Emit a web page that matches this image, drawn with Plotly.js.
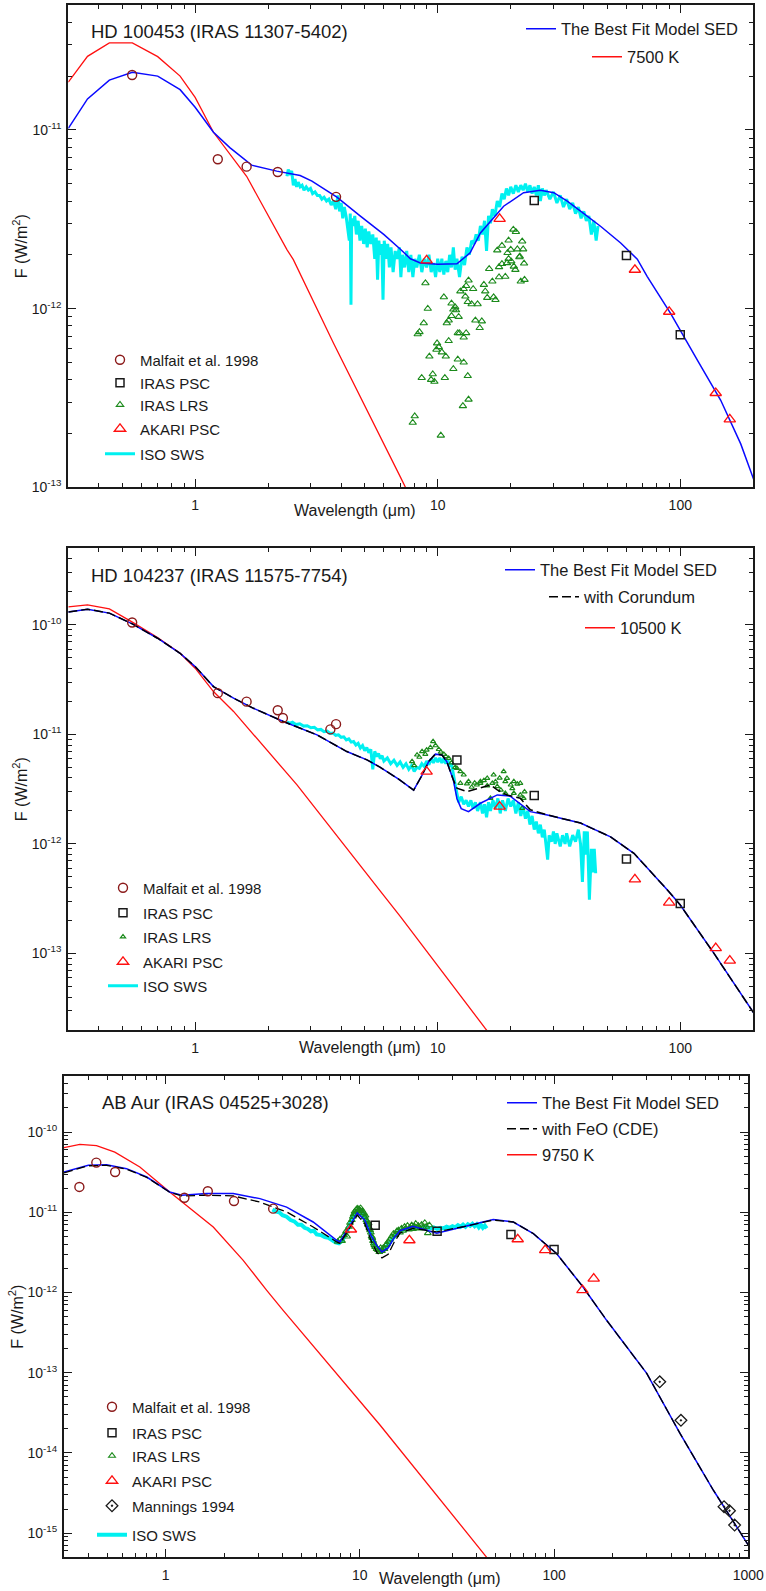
<!DOCTYPE html>
<html><head><meta charset="utf-8">
<script src="https://cdn.plot.ly/plotly-3.0.1.min.js"></script>
<style>html,body{margin:0;padding:0;background:#fff}</style>
</head><body><div id="chart" style="width:766px;height:1591px"></div>
<script>
// ---------------- Panel 1 : HD 100453 ----------------
const p1MalfaitWl = [0.55, 1.24, 1.63, 2.19, 3.81];
const p1MalfaitF  = [2.03e-11, 6.85e-12, 6.23e-12, 5.81e-12, 4.22e-12];
const p1IrasWl = [25, 60, 100];
const p1IrasF  = [4.03e-12, 1.98e-12, 7.14e-13];
const p1AkariWl = [9, 18, 65, 90, 140, 160];
const p1AkariF  = [1.86e-12, 3.18e-12, 1.65e-12, 9.6e-13, 3.37e-13, 2.4e-13];
const p1LrsWl = [8.90,10.6,9.10,8.76,8.27,8.41,9.24,8.59,9.54,9.39,9.69,10.3,8.04,7.89,9.94,10.1,9.88,10.4,10.8,10.7,
 11.6,12.1,12.8,13.3,12.7,13.4,11.1,12.1,12.3,12.8,13.1,10.9,11.1,11.4,11.6,11.9,12.2,11.4,11.8,12.4,
 12.8,13.1,13.4,13.0,13.3,13.8,14.0,14.6,14.3,14.9,15.2,16.0,15.7,15.5,17.0,17.3,16.3,16.8,17.9,17.9,
 19.0,18.4,19.3,19.6,20.1,20.6,20.9,21.7,22.0,22.8,22.7,20.5,21.0,19.6,22.3,17.6,18.4,20.0,21.3,22.5,19.4,21.8];
const p1LrsF = [1.39e-12,1.16e-12,1.0e-12,8.3e-13,7.2e-13,7.4e-13,5.4e-13,4.1e-13,4.3e-13,4.0e-13,3.9e-13,1.95e-13,2.5e-13,2.3e-13,6.4e-13,6.1e-13,5.9e-13,5.7e-13,5.4e-13,4.1e-13,
 4.6e-13,5.2e-13,5.0e-13,4.2e-13,2.85e-13,3.1e-13,6.6e-13,7.3e-13,7.3e-13,6.9e-13,7.3e-13,8.3e-13,8.6e-13,9.1e-13,9.9e-13,9.8e-13,9.0e-13,1.07e-12,1.02e-12,1.25e-12,
 1.29e-12,1.34e-12,1.44e-12,1.17e-12,1.09e-12,1.06e-12,1.29e-12,1.06e-12,8.6e-13,7.8e-13,8.5e-13,1.15e-12,1.25e-12,1.36e-12,1.16e-12,1.12e-12,1.67e-12,1.42e-12,1.71e-12,1.50e-12,
 1.51e-12,1.78e-12,1.80e-12,1.90e-12,1.84e-12,1.72e-12,1.65e-12,1.94e-12,1.42e-12,1.45e-12,1.79e-12,2.77e-12,2.69e-12,2.41e-12,2.38e-12,2.12e-12,2.25e-12,2.14e-12,2.15e-12,2.15e-12,2.05e-12,1.96e-12];
const p1SwsWl = [2.39,2.42,2.46,2.50,2.54,2.58,2.62,2.66,2.71,2.76,
 2.81,2.87,2.93,2.99,3.05,3.12,3.19,3.26,3.33,3.40,
 3.48,3.56,3.64,3.72,3.80,3.88,3.94,4.00,4.06,4.12,
 4.19,4.25,4.32,4.36,4.39,4.42,4.48,4.55,4.62,4.70,
 4.78,4.86,4.95,5.03,5.12,5.20,5.30,5.40,5.50,5.58,
 5.65,5.72,5.80,5.88,5.95,6.02,6.12,6.22,6.32,6.42,
 6.55,6.68,6.80,6.95,7.05,7.15,7.30,7.45,7.60,7.75,
 7.90,8.05,8.20,8.40,8.60,8.80,9.00,9.20,9.40,9.60,
 9.80,10.0,10.2,10.4,10.6,10.8,11.0,11.2,11.4,11.6,
 11.8,12.0,12.3,12.6,12.9,13.2,13.5,13.8,14.1,14.4,
 14.7,15.0,15.3,15.6,15.9,16.2,16.5,16.8,17.2,17.6,
 18.0,18.4,18.8,19.2,19.6,20.0,20.5,21.0,21.5,22.0,
 22.5,23.0,23.5,24.0,24.5,25.0,25.5,26.0,26.5,27.0,
 27.5,28.0,29.0,30.0,31.0,32.0,33.0,34.0,35.0,36.0,
 37.0,38.0,39.0,40.0,41.0,42.0,43.0,44.0,45.0,45.8];
const p1SwsF = [5.5e-12,6.0e-12,5.6e-12,5.9e-12,4.9e-12,5.3e-12,4.8e-12,5.1e-12,4.8e-12,4.9e-12,
 4.6e-12,4.8e-12,4.6e-12,4.7e-12,4.4e-12,4.5e-12,4.3e-12,4.3e-12,4.1e-12,4.2e-12,
 4.0e-12,4.1e-12,3.8e-12,4.0e-12,3.6e-12,4.3e-12,3.5e-12,3.9e-12,3.2e-12,3.7e-12,
 3.3e-12,2.9e-12,2.4e-12,3.4e-12,1.05e-12,3.2e-12,2.9e-12,3.3e-12,2.6e-12,3.1e-12,
 2.4e-12,2.9e-12,2.3e-12,2.8e-12,2.2e-12,2.7e-12,2.3e-12,2.6e-12,1.9e-12,2.5e-12,
 1.45e-12,2.4e-12,2.0e-12,2.3e-12,1.12e-12,2.4e-12,1.9e-12,2.3e-12,1.7e-12,2.2e-12,
 1.6e-12,2.1e-12,1.9e-12,2.2e-12,1.5e-12,2.0e-12,1.7e-12,2.1e-12,1.6e-12,2.0e-12,
 1.5e-12,1.9e-12,1.7e-12,2.0e-12,1.6e-12,1.9e-12,1.7e-12,2.0e-12,1.6e-12,1.8e-12,
 1.5e-12,1.9e-12,1.6e-12,1.9e-12,1.55e-12,1.85e-12,1.6e-12,2.0e-12,1.7e-12,2.2e-12,
 1.65e-12,1.9e-12,1.5e-12,1.95e-12,1.75e-12,2.2e-12,2.0e-12,2.4e-12,2.3e-12,2.6e-12,
 2.4e-12,2.9e-12,2.6e-12,3.1e-12,2.1e-12,3.3e-12,3.0e-12,3.6e-12,3.3e-12,4.0e-12,
 3.7e-12,4.4e-12,4.1e-12,4.7e-12,4.3e-12,4.8e-12,4.4e-12,4.9e-12,4.5e-12,4.9e-12,
 4.6e-12,5.0e-12,4.5e-12,4.9e-12,4.4e-12,4.8e-12,4.3e-12,4.9e-12,4.0e-12,4.7e-12,
 4.3e-12,4.6e-12,4.1e-12,4.5e-12,3.9e-12,4.3e-12,3.7e-12,4.1e-12,3.6e-12,3.9e-12,
 3.4e-12,3.7e-12,3.2e-12,3.5e-12,3.1e-12,3.3e-12,2.6e-12,3.1e-12,2.4e-12,2.9e-12];
const p1ModelWl = [0.30,0.36,0.443,0.551,0.701,0.867,1.0,1.19,1.39,1.71,2.17,2.71,3.03,3.84,4.80,5.99,7.02,7.72,8.48,10.0,12.0,13.6,15.0,18.7,22.6,26.5,30.1,34.2,38.8,46.9,56.8,66.5,73.1,91.2,117.6,146.8,177.5,201.5];
const p1ModelF  = [1.02e-11,1.49e-11,1.90e-11,2.10e-11,2.0e-11,1.68e-11,1.34e-11,9.7e-12,7.96e-12,6.35e-12,5.88e-12,5.56e-12,5.17e-12,4.2e-12,3.29e-12,2.6e-12,2.15e-12,1.9e-12,1.8e-12,1.77e-12,1.78e-12,2.05e-12,2.65e-12,3.74e-12,4.45e-12,4.60e-12,4.45e-12,3.99e-12,3.51e-12,2.89e-12,2.33e-12,1.89e-12,1.51e-12,9.4e-13,5.15e-13,3.07e-13,1.75e-13,1.09e-13];
const p1StarWl = [0.30,0.36,0.443,0.551,0.701,0.867,1.0,1.19,1.63,2.39,2.54,3.72,7.02,7.36];
const p1StarF  = [1.85e-11,2.58e-11,3.07e-11,3.07e-11,2.57e-11,2.0e-11,1.52e-11,9.7e-12,5.5e-12,2.14e-12,1.88e-12,6.4e-13,1.14e-13,1.0e-13];

// ---------------- Panel 2 : HD 104237 ----------------
const p2MalfaitWl = [0.55, 1.24, 1.63, 2.19, 2.30, 3.61, 3.81];
const p2MalfaitF  = [1.05e-10, 2.38e-11, 1.99e-11, 1.66e-11, 1.41e-11, 1.11e-11, 1.24e-11];
const p2IrasWl = [12, 25, 60, 100];
const p2IrasF  = [5.85e-12, 2.76e-12, 7.3e-13, 2.85e-13];
const p2AkariWl = [9, 18, 65, 90, 140, 160];
const p2AkariF  = [4.57e-12, 2.19e-12, 4.75e-13, 2.91e-13, 1.12e-13, 8.6e-14];
const p2LrsWl = [7.84,8.22,8.62,8.89,9.33,9.57,10.1,10.6,11.1,12.0,12.4,12.8,13.4,15.0,16.0,17.0,18.7,19.3,20.6,21.9,
 12.4,13.2,14.5,15.0,16.0,16.8,17.6,18.2,19.0,20.0,20.6,21.3,21.9,22.3,22.6,16.5,19.0,
 8.0,8.4,9.0,9.8,10.3,10.8,11.4,11.8,13.8,14.2,15.5,17.3,18.0,20.3,22.8];
const p2LrsF = [5.65e-12,6.5e-12,6.97e-12,6.59e-12,7.59e-12,8.6e-12,7.3e-12,6.59e-12,6.05e-12,4.91e-12,4.58e-12,4.27e-12,3.71e-12,3.71e-12,3.98e-12,4.27e-12,4.58e-12,3.98e-12,3.71e-12,3.58e-12,
 3.58e-12,3.55e-12,3.46e-12,3.58e-12,3.39e-12,3.58e-12,3.34e-12,3.11e-12,3.71e-12,3.46e-12,2.9e-12,3.52e-12,2.8e-12,2.12e-12,2.61e-12,2.61e-12,2.9e-12,
 5.2e-12,6.2e-12,7.2e-12,7.9e-12,6.9e-12,6.3e-12,5.5e-12,5.0e-12,3.3e-12,3.6e-12,3.8e-12,3.7e-12,4.0e-12,3.2e-12,3.0e-12];
const p2SwsWl = [2.39,2.45,2.52,2.6,2.7,2.8,2.9,3.0,3.1,3.2,
 3.3,3.4,3.5,3.6,3.7,3.8,3.9,4.0,4.1,4.2,
 4.3,4.4,4.5,4.6,4.7,4.8,4.9,5.0,5.1,5.2,
 5.3,5.4,5.5,5.6,5.7,5.8,5.9,6.0,6.2,6.4,
 6.6,6.8,7.0,7.2,7.4,7.6,7.8,8.0,8.2,8.4,
 8.6,8.8,9.0,9.2,9.4,9.6,9.8,10.0,10.2,10.4,
 10.6,10.8,11.0,11.2,11.4,11.6,11.8,12.0,12.2,12.5,
 12.8,13.1,13.4,13.7,14.0,14.3,14.6,15.0,15.3,15.6,
 15.9,16.2,16.5,16.9,17.3,17.7,18.1,18.5,19.0,19.5,
 20.0,20.5,21.0,21.5,22.0,22.5,23.0,23.5,24.0,24.5,
 25.0,25.5,26.0,26.5,27.0,27.5,28.0,28.4,28.8,29.5,
 30.0,30.5,31.0,32.0,32.7,33.5,34.0,35.0,36.0,37.0,
 38.0,38.8,39.5,40.2,41.0,41.4,42.2,43.0,43.6,44.2,
 44.8];
const p2SwsF = [1.30e-11,1.26e-11,1.29e-11,1.23e-11,1.25e-11,1.19e-11,1.20e-11,1.15e-11,1.16e-11,1.10e-11,
 1.11e-11,1.06e-11,1.07e-11,1.02e-11,1.03e-11,9.8e-12,9.9e-12,9.4e-12,9.5e-12,8.9e-12,
 9.1e-12,8.5e-12,8.6e-12,8.0e-12,8.3e-12,7.5e-12,7.9e-12,7.1e-12,7.6e-12,6.8e-12,
 7.3e-12,4.8e-12,7.0e-12,6.3e-12,6.7e-12,6.0e-12,6.4e-12,5.7e-12,6.1e-12,5.4e-12,
 5.8e-12,5.2e-12,5.6e-12,5.0e-12,5.4e-12,4.8e-12,5.2e-12,4.6e-12,5.0e-12,4.9e-12,
 5.4e-12,5.1e-12,5.7e-12,5.3e-12,6.0e-12,5.5e-12,6.1e-12,5.6e-12,6.1e-12,5.5e-12,
 6.0e-12,5.4e-12,5.9e-12,5.1e-12,5.4e-12,4.2e-12,3.5e-12,2.9e-12,2.4e-12,2.7e-12,
 2.3e-12,2.5e-12,2.2e-12,2.5e-12,2.1e-12,2.4e-12,2.0e-12,2.4e-12,1.9e-12,2.3e-12,
 1.75e-12,2.4e-12,2.0e-12,2.5e-12,2.1e-12,2.6e-12,1.9e-12,2.5e-12,2.0e-12,2.6e-12,
 2.2e-12,2.5e-12,1.9e-12,2.4e-12,1.8e-12,2.2e-12,1.7e-12,2.0e-12,1.5e-12,1.8e-12,
 1.35e-12,1.6e-12,1.25e-12,1.5e-12,1.15e-12,1.35e-12,9.5e-13,7.2e-13,1.2e-12,1.05e-12,
 1.3e-12,1.0e-12,1.25e-12,9.5e-13,1.2e-12,1.0e-12,1.25e-12,9.5e-13,1.2e-12,1.05e-12,
 1.35e-12,1.0e-12,4.5e-13,1.3e-12,8.0e-13,1.3e-12,3.1e-13,9.0e-13,5.5e-13,9.0e-13,
 5.4e-13];
const p2ModelWl = [0.30,0.36,0.443,0.551,0.70,0.867,1.0,1.19,1.44,1.74,2.31,3.18,4.22,5.11,5.8,6.9,7.96,8.6,9.2,9.78,10.4,10.9,11.6,12.0,12.5,13.4,15.0,17.6,19.9,24.1,28.3,38.8,51.6,64.4,88.5,100,137.7,201];
const p2ModelF  = [1.31e-10,1.39e-10,1.28e-10,1.02e-10,7.55e-11,5.5e-11,4.16e-11,2.73e-11,2.14e-11,1.73e-11,1.31e-11,9.9e-12,6.97e-12,5.85e-12,5.0e-12,3.9e-12,3.1e-12,4.2e-12,5.7e-12,6.6e-12,6.5e-12,5.65e-12,3.84e-12,2.6e-12,2.1e-12,1.97e-12,2.35e-12,2.80e-12,2.73e-12,1.97e-12,1.84e-12,1.55e-12,1.16e-12,8.2e-13,3.8e-13,2.77e-13,1.0e-13,2.85e-14];
const p2CorWl = [0.30,0.36,0.443,0.551,0.70,0.867,1.0,1.19,1.44,1.74,2.31,3.18,4.22,5.11,5.8,6.9,7.96,8.6,9.2,9.78,10.4,10.9,11.6,12.0,13.2,15.0,16.5,17.6,19.3,21.9,24.1,28.3,38.8,51.6,64.4,88.5,100,137.7,201];
const p2CorF  = [1.31e-10,1.39e-10,1.28e-10,1.02e-10,7.55e-11,5.5e-11,4.16e-11,2.73e-11,2.14e-11,1.73e-11,1.31e-11,9.9e-12,6.97e-12,5.85e-12,5.0e-12,3.9e-12,3.1e-12,4.2e-12,5.7e-12,6.6e-12,6.5e-12,5.65e-12,3.84e-12,3.23e-12,3.0e-12,3.23e-12,3.46e-12,3.11e-12,2.8e-12,2.61e-12,2.05e-12,1.84e-12,1.55e-12,1.16e-12,8.2e-13,3.8e-13,2.77e-13,1.0e-13,2.85e-14];
const p2StarWl = [0.30,0.36,0.443,0.551,0.70,0.867,1.0,1.19,1.44,2.51,2.63,5.8,7.02,15.7,16.5];
const p2StarF  = [1.46e-10,1.52e-10,1.40e-10,1.06e-10,7.66e-11,5.5e-11,4.02e-11,2.46e-11,1.62e-11,3.84e-12,3.46e-12,3.7e-13,2.17e-13,2.07e-14,1.8e-14];

// ---------------- Panel 3 : AB Aur ----------------
const p3MalfaitWl = [0.36, 0.44, 0.55, 1.25, 1.65, 2.25, 3.58];
const p3MalfaitF  = [2.07e-11, 4.16e-11, 3.18e-11, 1.52e-11, 1.83e-11, 1.38e-11, 1.11e-11];
const p3IrasWl = [12, 25, 60, 100];
const p3IrasF  = [6.89e-12, 5.8e-12, 5.27e-12, 3.43e-12];
const p3AkariWl = [9, 18, 65, 90, 140, 160];
const p3AkariF  = [6.1e-12, 4.48e-12, 4.61e-12, 3.37e-12, 1.07e-12, 1.49e-12];
const p3ManningsWl = [350, 450, 750, 800, 850];
const p3ManningsF  = [7.7e-14, 2.55e-14, 2.14e-15, 1.9e-15, 1.26e-15];
const p3LrsWl = [7.7,7.9,8.1,8.3,8.5,8.6,8.8,8.9,
 9.1,9.2,9.3,9.4,9.5,9.6,9.7,9.8,9.9,10.0,10.1,10.2,10.3,10.4,10.5,10.6,10.7,10.8,10.9,11.0,11.1,11.2,11.3,11.4,11.5,11.6,11.7,11.8,11.9,12.0,
 12.2,12.4,12.6,12.8,13.0,13.2,13.4,13.6,13.8,14.0,
 14.3,14.6,14.9,15.2,15.5,15.8,16.1,16.4,16.7,17.0,17.3,17.6,17.9,
 18.2,18.5,18.8,19.1,19.4,19.7,20.0,
 20.4,20.8,21.2,21.6,22.0,22.4,22.8];
const p3LrsF = [4.3e-12,4.6e-12,4.4e-12,5.2e-12,5.8e-12,5.0e-12,6.6e-12,7.4e-12,
 8.0e-12,8.8e-12,9.4e-12,1.02e-11,9.6e-12,1.08e-11,1.12e-11,1.04e-11,1.10e-11,1.06e-11,1.13e-11,9.9e-12,1.05e-11,9.4e-12,9.8e-12,8.7e-12,9.1e-12,8.0e-12,7.6e-12,7.0e-12,7.3e-12,6.4e-12,6.0e-12,5.6e-12,5.0e-12,4.8e-12,4.4e-12,4.1e-12,3.9e-12,3.7e-12,
 3.5e-12,3.4e-12,3.2e-12,3.6e-12,3.3e-12,3.6e-12,3.5e-12,3.9e-12,4.0e-12,4.3e-12,
 4.6e-12,5.0e-12,5.4e-12,5.2e-12,5.8e-12,6.0e-12,5.6e-12,6.3e-12,5.9e-12,6.6e-12,6.2e-12,6.8e-12,6.1e-12,
 6.5e-12,6.9e-12,6.2e-12,6.7e-12,7.2e-12,6.4e-12,6.8e-12,
 6.3e-12,7.0e-12,6.5e-12,7.4e-12,6.6e-12,5.5e-12,6.9e-12];
const p3SwsWl = [3.55,3.7,3.85,4.0,4.2,4.4,4.6,4.8,5.0,5.2,
 5.4,5.6,5.8,6.0,6.3,6.6,6.9,7.2,7.5,7.8,
 8.1,8.4,8.7,9.0,9.3,9.6,9.9,10.2,10.5,10.8,
 11.1,11.4,11.7,12.0,12.4,12.8,13.2,13.6,14.0,14.5,
 15.0,15.5,16.0,16.5,17.0,18.0,19.0,20.0,21.0,22.0,
 23.0,24.0,25.0,26.0,27.0,28.0,29.0,30.0,31.0,32.0,
 33.0,34.0,35.0,36.0,37.0,38.0,39.0,40.0,41.0,42.0,
 43.0,44.0,45.0];
const p3SwsF = [1.08e-11,1.02e-11,1.00e-11,9.2e-12,8.8e-12,8.0e-12,7.7e-12,7.0e-12,7.0e-12,6.4e-12,
 6.2e-12,5.8e-12,5.9e-12,5.3e-12,5.2e-12,4.9e-12,4.8e-12,4.4e-12,4.2e-12,4.1e-12,
 4.4e-12,5.2e-12,6.3e-12,7.8e-12,9.0e-12,1.01e-11,1.05e-11,1.00e-11,9.0e-12,7.6e-12,
 6.2e-12,5.1e-12,4.3e-12,3.8e-12,3.5e-12,3.4e-12,3.4e-12,3.6e-12,4.0e-12,4.5e-12,
 5.0e-12,5.5e-12,5.8e-12,6.0e-12,6.2e-12,6.3e-12,6.4e-12,6.5e-12,6.4e-12,6.6e-12,
 6.3e-12,6.5e-12,6.2e-12,6.4e-12,6.3e-12,6.6e-12,6.4e-12,6.7e-12,6.5e-12,6.9e-12,
 6.6e-12,7.0e-12,6.6e-12,7.1e-12,6.8e-12,7.2e-12,6.7e-12,7.1e-12,6.5e-12,7.0e-12,
 6.4e-12,6.8e-12,6.3e-12];
const p3ModelWl = [0.30,0.40,0.497,0.63,0.80,1.05,1.21,1.63,2.23,3.06,4.2,5.75,7.6,7.9,8.8,9.7,10.6,11.4,12.2,13.0,14.0,15.0,16.1,18.8,24.9,34.1,48.6,61.7,78.2,103,141,186.5,300,445,660,1000];
const p3ModelF  = [3.18e-11,3.85e-11,3.9e-11,3.5e-11,2.75e-11,1.79e-11,1.63e-11,1.71e-11,1.71e-11,1.48e-11,1.16e-11,7.57e-12,4.48e-12,4.27e-12,6.5e-12,9.8e-12,8.0e-12,5.2e-12,3.9e-12,3.2e-12,3.6e-12,4.8e-12,5.9e-12,6.7e-12,5.5e-12,6.56e-12,8.1e-12,7.57e-12,5.43e-12,3.06e-12,1.17e-12,4.5e-13,9.8e-14,1.75e-14,3.45e-15,7.1e-16];
const p3FeoWl = [0.30,0.40,0.497,0.63,0.80,1.05,1.21,1.63,2.23,3.06,4.2,5.75,7.6,7.9,8.8,9.7,10.6,11.4,12.2,13.0,14.0,15.0,16.1,18.8,24.9,34.1,48.6,61.7,78.2,103,141,186.5,300,445,660,1000];
const p3FeoF  = [3.1e-11,3.8e-11,3.85e-11,3.45e-11,2.72e-11,1.78e-11,1.6e-11,1.63e-11,1.6e-11,1.34e-11,1.01e-11,6.56e-12,4.27e-12,4.1e-12,6.2e-12,9.2e-12,7.2e-12,4.5e-12,3.2e-12,2.7e-12,3.0e-12,4.2e-12,5.5e-12,6.3e-12,5.7e-12,6.6e-12,8.0e-12,7.57e-12,5.43e-12,3.06e-12,1.17e-12,4.5e-13,9.8e-14,1.75e-14,3.45e-15,7.1e-16];
const p3StarWl = [0.30,0.362,0.441,0.548,0.737,1.05,1.76,2.51,3.31,4.03,12.7,16.1,45];
const p3StarF  = [6.39e-11,7.03e-11,6.76e-11,5.63e-11,3.67e-11,1.79e-11,6.56e-12,2.52e-12,1.07e-12,6.0e-13,2.23e-14,1.09e-14,5e-16];

// Tick labels
const xTickVals12 = [1, 10, 100];
const xTickText12 = ['1', '10', '100'];
const xTickVals3 = [1, 10, 100, 1000];
const xTickText3 = ['1', '10', '100', '1000'];
const yTickVals1 = [1e-13, 1e-12, 1e-11];
const yTickText1 = ['10<sup>-13</sup>', '10<sup>-12</sup>', '10<sup>-11</sup>'];
const yTickVals2 = [1e-13, 1e-12, 1e-11, 1e-10];
const yTickText2 = ['10<sup>-13</sup>', '10<sup>-12</sup>', '10<sup>-11</sup>', '10<sup>-10</sup>'];
const yTickVals3 = [1e-15, 1e-14, 1e-13, 1e-12, 1e-11, 1e-10];
const yTickText3 = ['10<sup>-15</sup>', '10<sup>-14</sup>', '10<sup>-13</sup>', '10<sup>-12</sup>', '10<sup>-11</sup>', '10<sup>-10</sup>'];

// ---------------- Drawing ----------------
const FONT = 'Liberation Sans, Arial, Helvetica, sans-serif';
const INK = '#1a1a1a';
const W = 766, H = 1591;
const px = v => v / W;
const py = v => 1 - v / H;

function minorTicks(lo, hi) {
  const out = [];
  for (let e = Math.floor(Math.log10(lo)) - 1; e <= Math.ceil(Math.log10(hi)); e++) {
    for (let m = 2; m <= 9; m++) {
      const v = m * Math.pow(10, e);
      if (v >= lo * 0.999 && v <= hi * 1.001) out.push(v);
    }
  }
  return out;
}

function axisBase() {
  return {
    type: 'log', tickmode: 'array', ticks: 'inside', ticklen: 8, tickwidth: 1.3, tickcolor: INK,
    showline: true, linewidth: 2, linecolor: INK, mirror: 'ticks',
    showgrid: false, zeroline: false, automargin: false, fixedrange: true,
    tickfont: { family: FONT, size: 14, color: INK }, ticklabelstandoff: 4,
  };
}
function xAxis(domain, anchor, lo, hi, vals, text) {
  return Object.assign(axisBase(), {
    domain, anchor, range: [Math.log10(lo), Math.log10(hi)], tickvals: vals, ticktext: text,
    minor: { tickmode: 'array', tickvals: minorTicks(lo, hi), ticks: 'inside', ticklen: 4, tickwidth: 1.2, tickcolor: INK, showgrid: false }
  });
}
function yAxis(domain, anchor, lo, hi, vals, text) {
  return Object.assign(axisBase(), {
    domain, anchor, range: [Math.log10(lo), Math.log10(hi)], tickvals: vals, ticktext: text, ticklabelstandoff: 2,
    title: { text: 'F (W/m<sup>2</sup>)', font: { family: FONT, size: 16, color: INK }, standoff: 0 },
    minor: { tickmode: 'array', tickvals: minorTicks(lo, hi), ticks: 'inside', ticklen: 4, tickwidth: 1.2, tickcolor: INK, showgrid: false }
  });
}

const layout = {
  width: W, height: H, margin: { l: 0, r: 0, t: 0, b: 0 },
  paper_bgcolor: '#ffffff', plot_bgcolor: '#ffffff',
  font: { family: FONT, size: 14, color: INK },
  showlegend: true,
  xaxis:  xAxis([px(68.3), px(753.3)], 'y', 0.3, 200, xTickVals12, xTickText12),
  yaxis:  yAxis([py(487.3), py(5)], 'x', 1e-13, 5e-11, yTickVals1, yTickText1),
  xaxis2: xAxis([px(68.3), px(753.3)], 'y2', 0.3, 200, xTickVals12, xTickText12),
  yaxis2: yAxis([py(1030), py(548.3)], 'x2', 2e-14, 5e-10, yTickVals2, yTickText2),
  xaxis3: xAxis([px(64), px(748.3)], 'y3', 0.3, 1000, xTickVals3, xTickText3),
  yaxis3: yAxis([py(1557.3), py(1076)], 'x3', 5e-16, 5e-10, yTickVals3, yTickText3),
  annotations: [],
};

function ann(text, x, y, size, xanchor) {
  layout.annotations.push({ text, x: px(x), y: py(y), xref: 'paper', yref: 'paper', xanchor: xanchor || 'left', yanchor: 'middle',
    showarrow: false, font: { family: FONT, size, color: INK } });
}
ann('HD 100453 (IRAS 11307-5402)', 89, 32, 18.5);
ann('HD 104237 (IRAS 11575-7754)', 89, 576, 18.5);
ann('AB Aur (IRAS 04525+3028)', 100, 1102, 18.5);
ann('Wavelength (\u03bcm)', 355, 510, 16, 'center');
ann('Wavelength (\u03bcm)', 360, 1047, 16, 'center');
ann('Wavelength (\u03bcm)', 440, 1578, 16, 'center');

let nLeg = 0;
function legendAt(xLeft, yMid, size) {
  nLeg++;
  const key = nLeg === 1 ? 'legend' : 'legend' + nLeg;
  layout[key] = { x: px(xLeft), y: py(yMid), xanchor: 'left', yanchor: 'middle', bgcolor: 'rgba(0,0,0,0)',
    borderwidth: 0, font: { family: FONT, size, color: INK }, itemclick: false, itemdoubleclick: false };
  return key;
}
// legend labels of the model curves are drawn a little larger than the data labels
const big = s => '<span style="font-size:16.5px">' + s + '</span>';

const traces = [];
function lineTrace(ax, x, y, name, color, width, dash, leg) {
  traces.push({ type: 'scatter', mode: 'lines', x, y, name, xaxis: 'x' + ax, yaxis: 'y' + ax,
    line: { color, width, dash: dash || 'solid' }, legend: leg, hoverinfo: 'skip' });
}
function markTrace(ax, x, y, name, symbol, color, size, lw, leg) {
  traces.push({ type: 'scatter', mode: 'markers', x, y, name, xaxis: 'x' + ax, yaxis: 'y' + ax,
    marker: { symbol, size, color, line: { color, width: lw } }, legend: leg, hoverinfo: 'skip' });
}

const BLUE = '#0a0aff', RED = '#ff1010', CYAN = '#00f0f0', GREEN = '#1b8a1b', BROWN = '#8b1a1a';

// Panel 1
lineTrace('', p1SwsWl, p1SwsF, 'ISO SWS', CYAN, 3, null, legendAt(100, 454, 15));
markTrace('', p1LrsWl, p1LrsF, 'IRAS LRS', 'triangle-up-open', GREEN, 6.5, 1.1, legendAt(100, 405, 15));
lineTrace('', p1StarWl, p1StarF, big('7500 K'), RED, 1.3, null, legendAt(587, 57, 16.5));
lineTrace('', p1ModelWl, p1ModelF, big('The Best Fit Model SED'), BLUE, 1.5, null, legendAt(521, 29, 16.5));
markTrace('', p1MalfaitWl, p1MalfaitF, 'Malfait et al. 1998', 'circle-open', BROWN, 9, 1.4, legendAt(100, 360, 15));
markTrace('', p1IrasWl, p1IrasF, 'IRAS PSC', 'square-open', INK, 8, 1.5, legendAt(100, 383, 15));
markTrace('', p1AkariWl, p1AkariF, 'AKARI PSC', 'triangle-up-open', RED, 10, 1.3, legendAt(100, 429, 15));

// Panel 2
lineTrace('2', p2SwsWl, p2SwsF, 'ISO SWS', CYAN, 3, null, legendAt(103, 986, 15));
markTrace('2', p2LrsWl, p2LrsF, 'IRAS LRS', 'triangle-up-open', GREEN, 4.5, 1.2, legendAt(103, 937, 15));
lineTrace('2', p2StarWl, p2StarF, big('10500 K'), RED, 1.3, null, legendAt(580, 628, 16.5));
lineTrace('2', p2ModelWl, p2ModelF, big('The Best Fit Model SED'), BLUE, 1.5, null, legendAt(500, 570, 16.5));
lineTrace('2', p2CorWl, p2CorF, big('with Corundum'), '#000000', 1.5, '9px,4px', legendAt(544, 597, 16.5));
markTrace('2', p2MalfaitWl, p2MalfaitF, 'Malfait et al. 1998', 'circle-open', BROWN, 9, 1.4, legendAt(103, 888, 15));
markTrace('2', p2IrasWl, p2IrasF, 'IRAS PSC', 'square-open', INK, 8, 1.5, legendAt(103, 913, 15));
markTrace('2', p2AkariWl, p2AkariF, 'AKARI PSC', 'triangle-up-open', RED, 10, 1.3, legendAt(103, 962, 15));

// Panel 3
lineTrace('3', p3SwsWl, p3SwsF, 'ISO SWS', CYAN, 4, null, legendAt(92, 1535, 15));
markTrace('3', p3LrsWl, p3LrsF, 'IRAS LRS', 'triangle-up-open', GREEN, 6, 1.1, legendAt(92, 1456, 15));
lineTrace('3', p3StarWl, p3StarF, big('9750 K'), RED, 1.3, null, legendAt(502, 1155, 16.5));
lineTrace('3', p3ModelWl, p3ModelF, big('The Best Fit Model SED'), BLUE, 1.5, null, legendAt(502, 1103, 16.5));
lineTrace('3', p3FeoWl, p3FeoF, big('with FeO (CDE)'), '#000000', 1.3, '9px,4px', legendAt(502, 1129, 16.5));
markTrace('3', p3MalfaitWl, p3MalfaitF, 'Malfait et al. 1998', 'circle-open', BROWN, 9, 1.4, legendAt(92, 1407, 15));
markTrace('3', p3IrasWl, p3IrasF, 'IRAS PSC', 'square-open', INK, 8, 1.5, legendAt(92, 1433, 15));
markTrace('3', p3AkariWl, p3AkariF, 'AKARI PSC', 'triangle-up-open', RED, 10, 1.3, legendAt(92, 1481, 15));
markTrace('3', p3ManningsWl, p3ManningsF, 'Mannings 1994', 'diamond-open-dot', INK, 9, 1.3, legendAt(92, 1506, 15));

Plotly.newPlot('chart', traces, layout, { displayModeBar: false });
</script></body></html>
